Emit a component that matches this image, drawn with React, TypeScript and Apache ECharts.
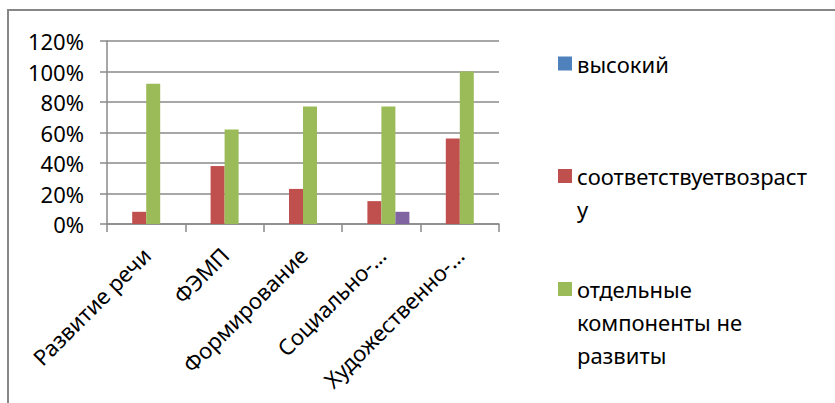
import React, { useEffect, useRef } from "react";
import * as echarts from "echarts";

const categories = ["Развитие речи", "ФЭМП", "Формирование", "Социально-…", "Художественно-…"];
const seriesNames = ["высокий", "соответствуетвозрасту", "отдельные компоненты не развиты", "Ряд 4"];
const legendLines = [["высокий"], ["соответствуетвозраст", "у"], ["отдельные", "компоненты не", "развиты"]];
const valuesHigh = [0, 0, 0, 0, 0];
const valuesAge = [8, 38, 23, 15, 56];
const valuesPartial = [92, 62, 77, 77, 100];
const valuesFourth = [0, 0, 0, 8, 0];
const colors = ["#4F81BD", "#C0504D", "#9BBB59", "#8064A2"];

const FONT = "Noto Sans";
const FS = 22;
const LH = 33;
const GRID = "#8a8a8a";

export default function App() {
  const ref = useRef<HTMLDivElement>(null);
  useEffect(() => {
    if (!ref.current) return;
    const chart = echarts.init(ref.current, null, { renderer: "svg" });
    const seriesData = [valuesHigh, valuesAge, valuesPartial, valuesFourth];
    const legendCenters = [66.5, 179, 292];
    const legends = legendLines.map((lines, i) => {
      const n = lines.length;
      const padded = new Array(n - 1).fill("").concat(lines);
      return {
        show: true,
        orient: "vertical",
        left: 558,
        top: legendCenters[i] - ((2 * n - 1) * LH) / 2 - 3,
        padding: 0,
        itemWidth: 14,
        itemHeight: 14,
        icon: "rect",
        selectedMode: false,
        textStyle: { fontFamily: FONT, fontSize: FS, color: "#000", lineHeight: LH },
        formatter: () => padded.join("\n"),
        data: [{ name: seriesNames[i] }],
      };
    });
    chart.setOption({
      animation: false,
      color: colors,
      textStyle: { fontFamily: FONT },
      grid: { left: 107, right: 336, top: 41, bottom: 179, containLabel: false },
      legend: legends,
      graphic: [
        {
          type: "rect",
          shape: { x: 8, y: 10, width: 900, height: 500 },
          style: { fill: "none", stroke: "#878787", lineWidth: 2 },
          silent: true,
        },
      ],
      xAxis: {
        type: "category",
        data: categories,
        boundaryGap: true,
        axisLine: { show: true, lineStyle: { color: GRID, width: 1.5 } },
        axisTick: { show: true, length: 8, lineStyle: { color: GRID, width: 1.5 } },
        axisLabel: {
          interval: 0,
          rotate: 45,
          margin: 27,
          color: "#000",
          fontFamily: FONT,
          fontSize: FS,
        },
        splitLine: { show: false },
      },
      yAxis: {
        type: "value",
        min: 0,
        max: 120,
        interval: 20,
        axisLine: { show: true, lineStyle: { color: GRID, width: 1.5 } },
        axisTick: { show: true, length: 7, lineStyle: { color: GRID, width: 1.5 } },
        axisLabel: {
          formatter: "{value}%",
          margin: 23,
          color: "#000",
          fontFamily: FONT,
          fontSize: FS,
        },
        splitLine: { show: true, lineStyle: { color: GRID, width: 1.5 } },
      },
      series: seriesNames.map((name, i) => ({
        name,
        type: "bar",
        data: seriesData[i],
        barWidth: 14,
        barGap: "0%",
        itemStyle: { color: colors[i] },
      })),
    });
    return () => chart.dispose();
  }, []);
  return (
    <div style={{ position: "absolute", left: 0, top: 0, width: 835, height: 403, background: "#fff" }}>
      <div ref={ref} style={{ width: 835, height: 403 }} />
    </div>
  );
}
